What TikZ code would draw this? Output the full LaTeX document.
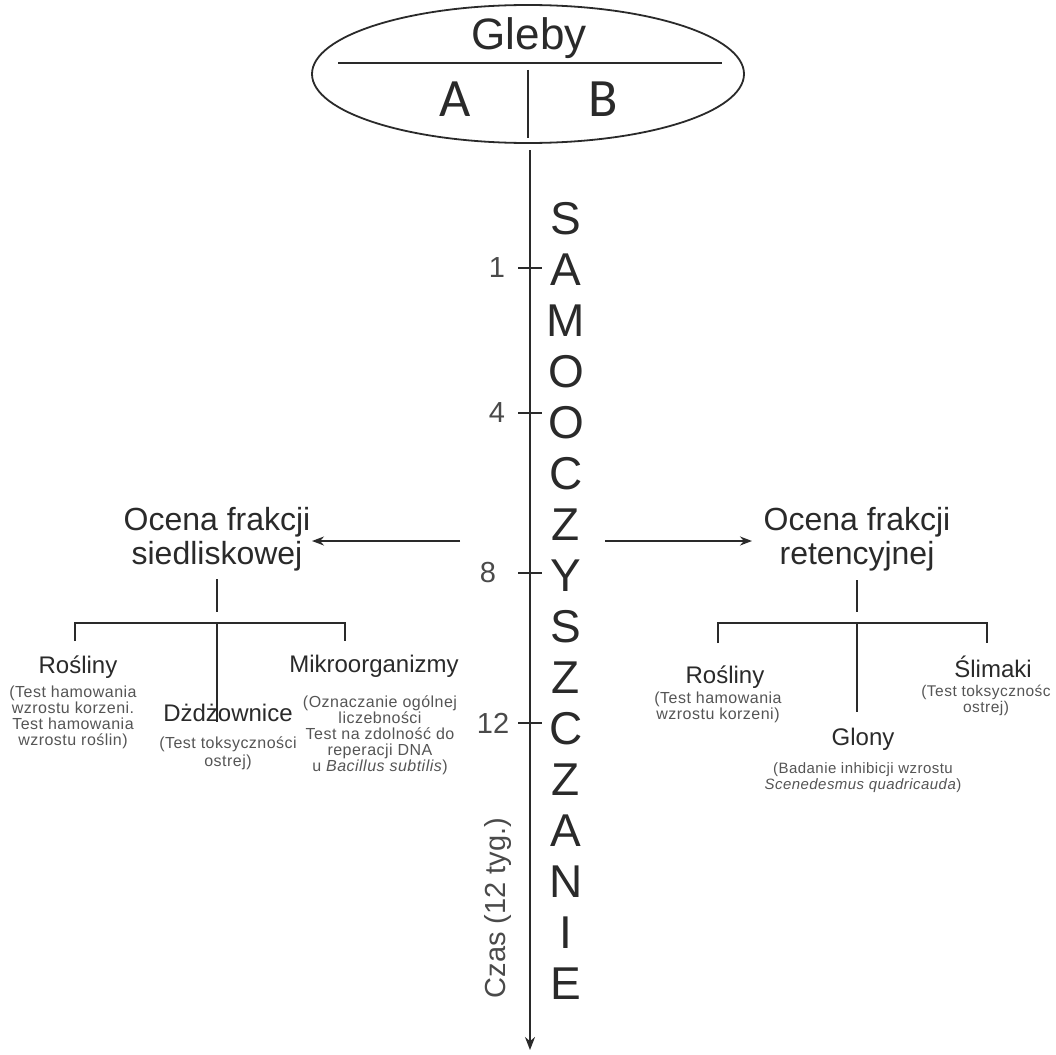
\documentclass[tikz,border=0pt]{standalone}
\usepackage{fontspec}
\setmainfont{Liberation Sans}
\newfontfamily\abfont{Carlito}
\newfontfamily\subfont[LetterSpace=3]{Liberation Sans}
\usetikzlibrary{arrows.meta,shapes.geometric}
\definecolor{ink}{HTML}{2A2A2A}
\definecolor{soft}{HTML}{555555}
\begin{document}
\begin{tikzpicture}[x=1pt,y=-1pt,
  line/.style={draw=ink,line width=1.8pt},
  thin/.style={draw=ink,line width=1.3pt},
  arr/.style={draw=ink,line width=1.6pt,-{Stealth[length=12pt,width=9pt]}},
  axl/.style={text=ink,font=\fontsize{46}{46}\selectfont,inner sep=0pt},
  tick/.style={text=ink!85,font=\fontsize{29}{30}\selectfont,inner sep=0pt},
  head/.style={text=ink,font=\fontsize{32}{34}\selectfont,align=center,inner sep=0pt},
  grp/.style={text=ink,font=\fontsize{24}{26}\selectfont,inner sep=0pt},
  sub/.style={text=soft,font=\subfont\fontsize{16}{15.8}\selectfont,align=center,inner sep=0pt}]
\useasboundingbox[fill=white] (0,0) rectangle (1056,1054);

% soil ellipse
\node[ellipse,draw=ink,line width=1.8pt,minimum width=432pt,minimum height=138pt,inner sep=0pt] (soil) at (528,74) {};
\node[text=ink,font=\fontsize{44}{46}\selectfont,inner sep=0pt] (gleby) at (529,38) {Gleby};
\coordinate (hl) at (338,63);
\coordinate (hr) at (722,63);
\draw[line] (hl) -- (hr);
\node[text=ink,font=\abfont\fontsize{54}{54}\selectfont,inner sep=0pt] (A) at (455,99) {A};
\node[text=ink,font=\abfont\fontsize{54}{54}\selectfont,inner sep=0pt] (B) at (603,99) {B};
\coordinate (dt) at (528,70);
\coordinate (db) at (528,138);
\draw[thin] (dt) -- (db);

% time axis
\coordinate (axtop) at (530,150);
\coordinate (axbot) at (530,1050);
\draw[line,-{Stealth[length=13pt,width=10pt]}] (axtop) -- (axbot);

\foreach \l [count=\i] in {S,A,M,O,O,C,Z,Y,S,Z,C,Z,A,N,I,E}
  \node[axl] (L\i) at (566,{219+(\i-1)*51}) {\l};

\foreach \y/\t/\xx in {268/1/497,413/4/497,573/8/488,723/12/493}{
  \coordinate (ta\t) at (518,\y);
  \coordinate (tb\t) at (542,\y);
  \draw[thin] (ta\t) -- (tb\t);
  \node[tick] (tl\t) at (\xx,\y) {\t};
}
\node[tick,rotate=90] (czas) at (498,908) {Czas (12 tyg.)};

% branches
\coordinate (lfrom) at (460,541);
\coordinate (lto) at (312,541);
\coordinate (rfrom) at (605,541);
\coordinate (rto) at (752,541);
\draw[arr] (lfrom) -- (lto);
\draw[arr] (rfrom) -- (rto);

\node[head] (siedl) at (217,539) {Ocena frakcji\\siedliskowej};
\node[head] (reten) at (857,539) {Ocena frakcji\\retencyjnej};

% left tree
\coordinate (ls1) at (217,579);
\coordinate (ls2) at (217,612);
\draw[thin] (ls1) -- (ls2);
\coordinate (lb1) at (75,641);
\coordinate (lb2) at (345,641);
\draw[thin] (lb1) -- (75,623) -- (345,623) -- (lb2);
\coordinate (lm1) at (217,623);
\coordinate (lm2) at (217,722);
\draw[thin] (lm1) -- (lm2);

\node[grp] (rosl) at (78,667) {Rośliny};
\node[sub,anchor=north] (roslt) at (73,686) {(Test hamowania\\wzrostu korzeni.\\Test hamowania\\wzrostu roślin)};
\node[grp] (dzdz) at (228,713) {Dżdżownice};
\node[sub,font=\subfont\fontsize{16}{18}\selectfont,anchor=north] (dzdzt) at (228,737) {(Test toksyczności\\ostrej)};
\node[grp] (mikro) at (374,666) {Mikroorganizmy};
\node[sub,anchor=north] (mikrot) at (380,696) {(Oznaczanie ogólnej\\liczebności\\Test na zdolność do\\reperacji DNA\\u \textit{Bacillus subtilis})};

% right tree
\coordinate (rs1) at (857,580);
\coordinate (rs2) at (857,612);
\draw[thin] (rs1) -- (rs2);
\coordinate (rb1) at (718,643);
\coordinate (rb2) at (987,643);
\draw[thin] (rb1) -- (718,623) -- (987,623) -- (rb2);
\coordinate (rm1) at (857,623);
\coordinate (rm2) at (857,712);
\draw[thin] (rm1) -- (rm2);

\node[grp] (rosr) at (725,677) {Rośliny};
\node[sub,anchor=north] (rosrt) at (718,692) {(Test hamowania\\wzrostu korzeni)};
\node[grp] (glony) at (863,739) {Glony};
\node[sub,font=\subfont\fontsize{15}{16.5}\selectfont,anchor=north] (glonyt) at (863,762) {(Badanie inhibicji wzrostu\\\textit{Scenedesmus quadricauda})};
\node[grp] (slim) at (993,667) {Ślimaki};
\node[sub,font=\subfont\fontsize{15.5}{15.8}\selectfont,anchor=north] (slimt) at (986,685) {(Test toksycznośc\\ostrej)};
\end{tikzpicture}
\end{document}
